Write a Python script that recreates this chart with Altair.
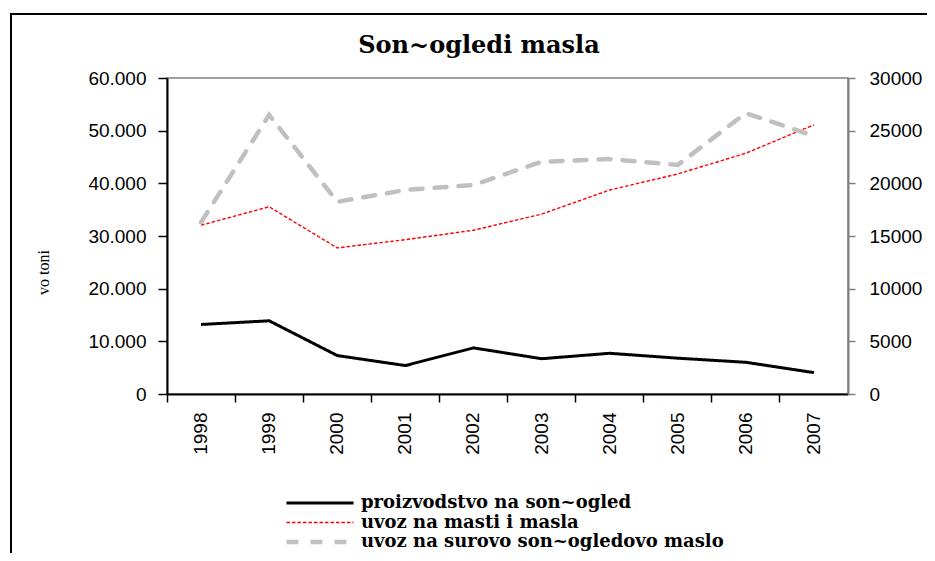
import altair as alt
import pandas as pd

years = ["1998", "1999", "2000", "2001", "2002", "2003", "2004", "2005", "2006", "2007"]
series_names = ["proizvodstvo na son~ogled", "uvoz na masti i masla", "uvoz na surovo son~ogledovo maslo"]
# left axis (vo toni)
production = [13200, 13900, 7300, 5400, 8760, 6700, 7730, 6800, 6020, 4060]
fats_imports = [32060, 35550, 27740, 29300, 31100, 34150, 38730, 41780, 45720, 51110]
# right axis
crude_oil_imports = [16300, 26500, 18250, 19370, 19840, 22050, 22300, 21750, 26670, 24500]
left_ticks = [0, 10000, 20000, 30000, 40000, 50000, 60000]
right_ticks = [0, 5000, 10000, 15000, 20000, 25000, 30000]
chart_title = "Son~ogledi masla"

rows = []
for name, vals in zip(series_names, [production, fats_imports, crude_oil_imports]):
    for y, v in zip(years, vals):
        rows.append({"year": y, "series": name, "value": v})
df = pd.DataFrame(rows)

color_scale = alt.Scale(domain=series_names, range=["#000000", "#ff0000", "#c0c0c0"])
dash_scale = alt.Scale(domain=series_names, range=[[1, 0], [3.5, 2], [12, 12]])
width_scale = alt.Scale(type="ordinal", domain=series_names, range=[3, 1.4, 4.5])

leg = alt.Legend(title=None, orient="none", legendX=144, legendY=416,
                 symbolType="M-10,0H10", symbolSize=45, labelFont="DejaVu Serif",
                 labelFontSize=18, labelFontWeight="bold", labelColor="#000000",
                 labelLimit=0, rowPadding=1.5, labelOffset=32, padding=0)

x_enc = alt.X("year:O", scale=alt.Scale(type="band", paddingInner=0, paddingOuter=0),
              axis=alt.Axis(title=None, labelAngle=270, bandPosition=0, grid=False,
                            labelFont="Liberation Sans", labelFontSize=19, labelColor="#000000",
                            domainColor="#000000", domainWidth=2, tickColor="#000000",
                            tickWidth=1.5, tickSize=8, labelPadding=10))

base = alt.Chart(df)

left = base.transform_filter(
    alt.FieldOneOfPredicate(field="series", oneOf=series_names[:2])
).mark_line().encode(
    x=x_enc,
    y=alt.Y("value:Q", scale=alt.Scale(domain=[0, 60000]),
            axis=alt.Axis(title="vo toni", values=left_ticks, grid=False,
                          labelExpr="replace(format(datum.value, ',d'), ',', '.')",
                          labelFont="Liberation Sans", labelFontSize=19, labelColor="#000000",
                          domainColor="#000000", domainWidth=2, tickColor="#000000",
                          tickWidth=1.5, tickSize=9, labelPadding=12,
                          titleFont="Liberation Serif", titleFontSize=16, titleFontWeight="normal",
                          titleColor="#000000", titleAngle=270, titleX=-124, titleY=194,
                          titleAlign="center", titleBaseline="middle")),
    color=alt.Color("series:N", scale=color_scale, legend=leg),
    strokeDash=alt.StrokeDash("series:N", scale=dash_scale, legend=leg),
    strokeWidth=alt.StrokeWidth("series:N", scale=width_scale, legend=leg),
)

right = base.transform_filter(
    alt.FieldEqualPredicate(field="series", equal=series_names[2])
).mark_line(strokeCap="round").encode(
    x=x_enc,
    y=alt.Y("value:Q", scale=alt.Scale(domain=[0, 30000]),
            axis=alt.Axis(title=None, orient="right", values=right_ticks, format="d", grid=False,
                          labelFont="Liberation Sans", labelFontSize=19, labelColor="#000000",
                          domainColor="#808080", domainWidth=2, tickColor="#808080",
                          tickWidth=1.5, tickSize=7, labelPadding=14)),
    color=alt.Color("series:N", scale=color_scale, legend=leg),
    strokeDash=alt.StrokeDash("series:N", scale=dash_scale, legend=leg),
    strokeWidth=alt.StrokeWidth("series:N", scale=width_scale, legend=leg),
)

one = alt.Chart(pd.DataFrame({"t": [chart_title]}))

frame = one.mark_rect(
    fill=None, stroke="#000000", strokeWidth=2
).encode(x=alt.value(-156), y=alt.value(-64), x2=alt.value(900), y2=alt.value(700))

title = one.mark_text(
    font="DejaVu Serif", fontSize=24, fontWeight="bold", color="#000000",
    align="center", baseline="alphabetic"
).encode(text="t:N", x=alt.value(312), y=alt.value(-25))

chart = alt.layer(frame, title, left, right).resolve_scale(y="independent").properties(
    width=681, height=316,
    autosize="none",
    padding={"left": 159, "top": 70, "right": 79, "bottom": 159},
    background="#ffffff",
).configure_view(stroke="#808080", strokeWidth=1.5)

chart.save("out.html", embed_options={"renderer": "svg", "actions": False})
